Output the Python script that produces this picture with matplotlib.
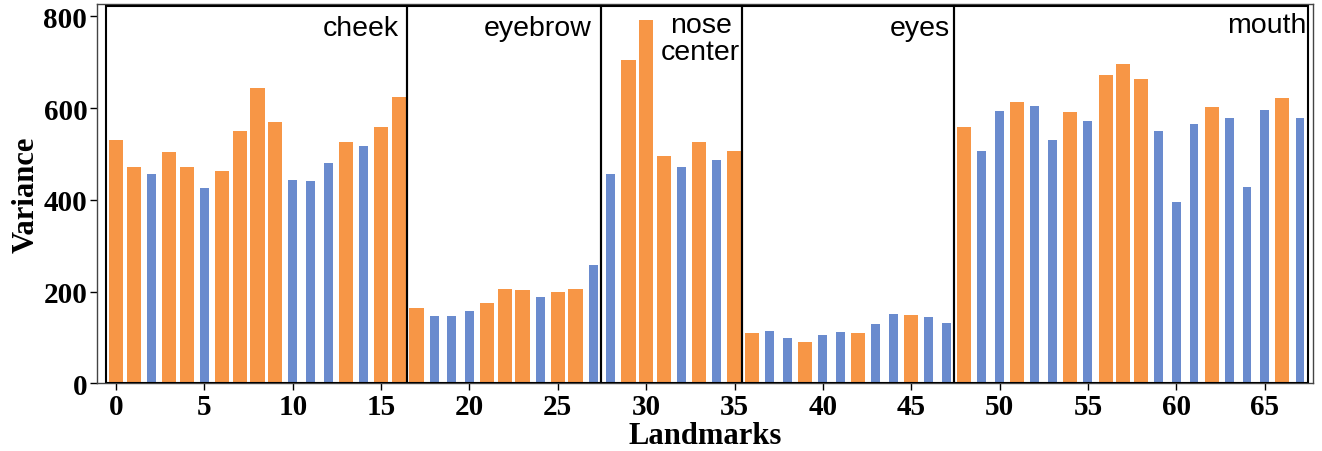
import matplotlib.pyplot as plt
from matplotlib.patches import Rectangle

# Varianza por landmark (68 puntos faciales)
landmarks = list(range(68))
variance = [531, 472, 457, 505, 472, 426, 463, 551, 644, 570,
            444, 441, 481, 527, 518, 559, 625,
            164, 147, 147, 158, 175, 206, 204, 188, 199, 206, 258,
            457, 705, 793, 496, 472, 527, 487, 507,
            110, 114, 99, 90, 105, 112, 110, 129, 151, 149, 145, 132,
            559, 507, 594, 614, 605, 531, 592, 572, 673, 697,
            664, 551, 396, 566, 603, 579, 428, 596, 623, 579]
# 1 = naranja (barra ancha), 0 = azul (barra estrecha)
highlight = [1, 1, 0, 1, 1, 0, 1, 1, 1, 1, 0, 0, 0, 1, 0, 1, 1,
             1, 0, 0, 0, 1, 1, 1, 0, 1, 1, 0,
             0, 1, 1, 1, 0, 1, 0, 1,
             1, 0, 0, 1, 0, 0, 1, 0, 0, 1, 0, 0,
             1, 0, 0, 1, 0, 0, 1, 0, 1, 1, 1, 0, 0, 0, 1, 0, 0, 0, 1, 0]

# Regiones de la cara
regions = ["cheek", "eyebrow", "nose\ncenter", "eyes", "mouth"]
region_start = [0, 17, 28, 36, 48]
region_end = [16, 27, 35, 47, 67]

orange = "#F79646"
blue = "#6A8BCE"

fig = plt.figure(figsize=(13.22, 4.52), dpi=100)
ax = fig.add_axes([0.0734, 0.1498, 0.9198, 0.8392])

x_or = [x for x, h in zip(landmarks, highlight) if h]
y_or = [v for v, h in zip(variance, highlight) if h]
x_bl = [x for x, h in zip(landmarks, highlight) if not h]
y_bl = [v for v, h in zip(variance, highlight) if not h]

ax.bar(x_or, y_or, width=0.8, color=orange, zorder=2)
ax.bar(x_bl, y_bl, width=0.5, color=blue, zorder=2)

# desplazamiento (px) del texto respecto al borde derecho de cada caja
text_dx = [-8, -9, -2, -4, -1]
text_dy = [-9, -9, -6, -9, -6]
for name, s, e, dx, dy in zip(regions, region_start, region_end, text_dx, text_dy):
    x1 = e + 0.44
    ax.add_patch(Rectangle((s - 0.56, 0), x1 - (s - 0.56), 822,
                           fill=False, edgecolor="black", linewidth=1.5, zorder=3))
    ax.annotate(name, xy=(x1, 822), xytext=(dx, dy), textcoords="offset pixels",
                ha="right", va="top", multialignment="center",
                fontsize=20.5, family="Liberation Sans", zorder=4, linespacing=1.05)

ax.set_xlim(-1.08, 67.74)
ax.set_ylim(0, 827)
ax.set_xticks(range(0, 70, 5))
ax.set_yticks(range(0, 801, 200))

for lbl in ax.get_xticklabels() + ax.get_yticklabels():
    lbl.set_fontfamily("Liberation Serif")
    lbl.set_fontweight("bold")
    lbl.set_fontsize(21)

ax.set_xlabel("Landmarks", fontsize=22, fontweight="bold", family="Liberation Serif", labelpad=1)
ax.set_ylabel("Variance", fontsize=22, fontweight="bold", family="Liberation Serif", labelpad=2)

for sp in ax.spines.values():
    sp.set_color("#444444")
    sp.set_linewidth(1.0)
ax.tick_params(length=5, width=1, pad=2)

plt.savefig("out.png", dpi=100)
